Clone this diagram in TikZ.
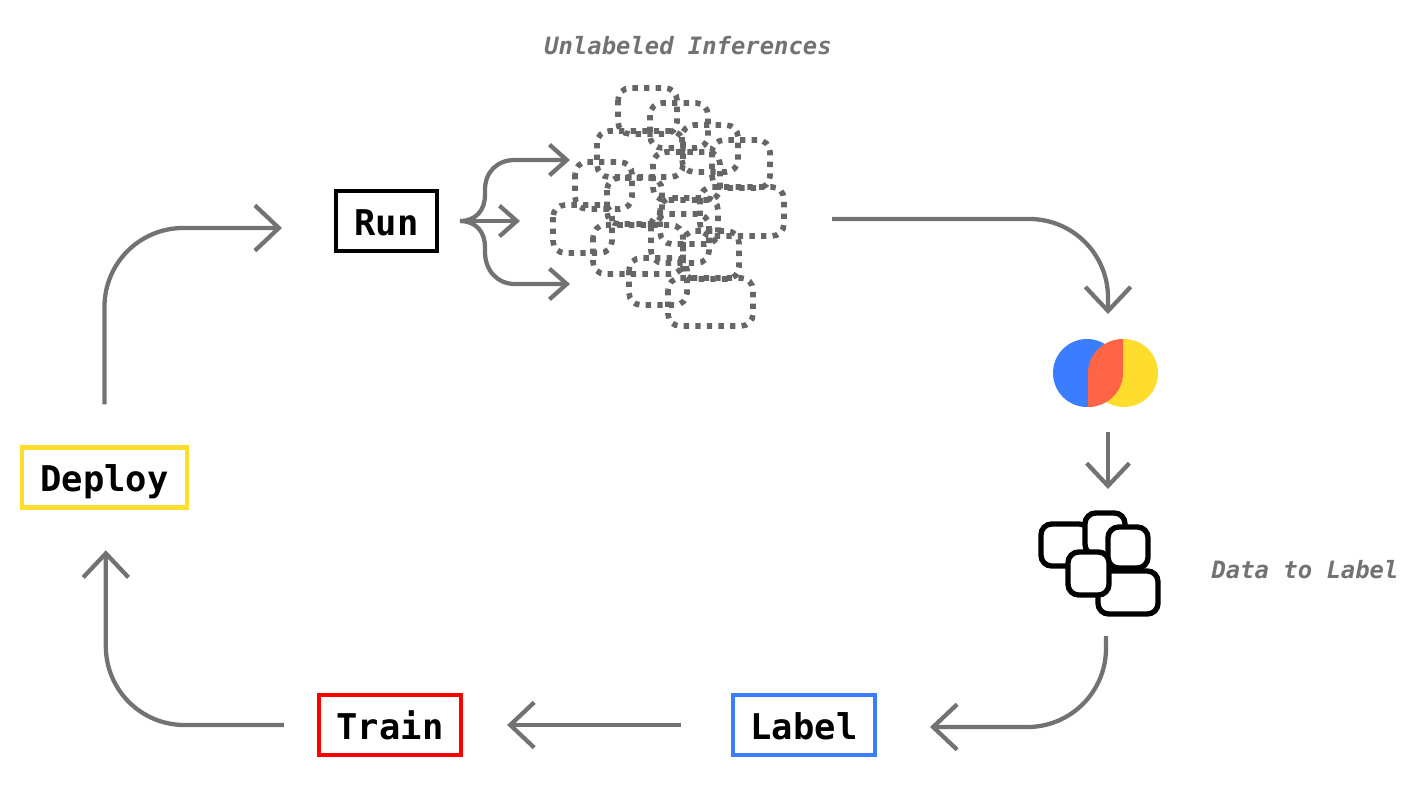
\documentclass[tikz,border=0pt]{standalone}
\usepackage{fontspec}
\setmonofont{DejaVu Sans Mono}
\usetikzlibrary{arrows.meta}
\definecolor{flowgray}{HTML}{727272}
\definecolor{dotgray}{HTML}{666666}
\definecolor{deployyellow}{HTML}{FFDD2D}
\definecolor{trainred}{HTML}{FF0000}
\definecolor{labelblue}{HTML}{3A7DFF}
\definecolor{vennred}{HTML}{FF6545}
\tikzset{
	flow/.style={draw=flowgray, line width=3.2pt, rounded corners=59pt, -{Straight Barb[length=18pt, width=34pt]}},
	smallflow/.style={draw=flowgray, line width=3.2pt, -{Straight Barb[length=13pt, width=23pt]}},
	stagebox/.style={draw, line width=3.2pt, inner sep=0pt, minimum height=45pt, text height=21pt, text depth=0pt, font=\ttfamily\bfseries\fontsize{26.6}{30}\selectfont},
	caption/.style={text=flowgray, inner sep=0pt, font=\ttfamily\bfseries\itshape\fontsize{17.9}{20}\selectfont},
	inference/.style={draw=dotgray, line width=4.2pt, rounded corners=9pt, dash pattern=on 4pt off 4.7pt},
	picked/.style={draw=black, fill=white, line width=4pt, rounded corners=8pt}
}

\begin{document}
\begin{tikzpicture}[x=0.75pt, y=-0.75pt]
	\useasboundingbox (0, 0) rectangle (1420, 800);

	%%%%% STAGES %%%%%
	\node[stagebox, minimum width=75.75pt] (run) at (386.5, 221) {Run};
	\node[stagebox, draw=deployyellow, minimum width=123.75pt] (deploy) at (104.5, 477.5) {Deploy};
	\node[stagebox, draw=trainred, minimum width=106.5pt] (train) at (390, 725) {Train};
	\node[stagebox, draw=labelblue, minimum width=106.5pt] (label) at (804, 725) {Label};

	\node[caption] (unlabeled) at (688, 46) {Unlabeled Inferences};
	\node[caption] (tolabel) at (1305, 570) {Data to Label};

	%%%%% INFERENCES %%%%%
	\draw[inference] (618, 88) rectangle (677, 134);
	\draw[inference] (650, 103) rectangle (708, 148);
	\draw[inference] (682, 125) rectangle (738, 172);
	\draw[inference] (712, 140) rectangle (770, 188);
	\draw[inference] (597, 131) rectangle (683, 177);
	\draw[inference] (575, 162) rectangle (632, 209);
	\draw[inference] (607, 178) rectangle (662, 224);
	\draw[inference] (653, 152) rectangle (720, 200);
	\draw[inference] (660, 198) rectangle (718, 244);
	\draw[inference] (700, 187) rectangle (784, 236);
	\draw[inference] (553, 205) rectangle (612, 253);
	\draw[inference] (593, 225) rectangle (683, 274);
	\draw[inference] (651, 214) rectangle (709, 263);
	\draw[inference] (683, 231) rectangle (739, 279);
	\draw[inference] (629, 258) rectangle (687, 305);
	\draw[inference] (668, 278) rectangle (753, 326);

	%%%%% VENN %%%%%
	\fill[labelblue] (1087, 373) circle (34);
	\fill[deployyellow] (1124, 373) circle (34);
	\fill[vennred] (1123, 339) arc (270:180:35 and 34) -- (1088, 407) arc (90:0:35 and 34) -- cycle;

	%%%%% TO LABEL %%%%%
	\draw[picked] (1041, 524) rectangle (1090, 566);
	\draw[picked] (1085, 513) rectangle (1125, 555);
	\draw[picked] (1098, 571) rectangle (1158, 614);
	\draw[picked] (1108, 527) rectangle (1148, 568);
	\draw[picked] (1068, 552) rectangle (1109, 595);

	%%%%% CONNECTORS %%%%%
	\coordinate (runin) at (282, 228);
	\coordinate (runfork) at (460, 221);
	\coordinate (forktop) at (570, 160);
	\coordinate (forkmid) at (520, 221);
	\coordinate (forkbottom) at (570, 284);
	\coordinate (cloudout) at (832, 219);
	\coordinate (vennin) at (1108, 314);
	\coordinate (vennout) at (1108, 432);
	\coordinate (stackin) at (1108, 489);
	\coordinate (stackout) at (1106, 636);
	\coordinate (labelin) at (930, 727);

	\draw[flow, shorten <=30.75pt] (deploy.north) |- (runin);
	\draw[smallflow] (runfork) -- (forkmid);
	\draw[smallflow] (runfork) .. controls (476, 221) and (485, 210) .. (485, 195) -- (485, 190) .. controls (485, 172) and (497, 160) .. (515, 160) -- (forktop);
	\draw[smallflow] (runfork) .. controls (476, 221) and (485, 232) .. (485, 247) -- (485, 252) .. controls (485, 270) and (497, 284) .. (515, 284) -- (forkbottom);
	\draw[flow] (cloudout) -| (vennin);
	\draw[smallflow, -{Straight Barb[length=17pt, width=32pt]}] (vennout) -- (stackin);
	\draw[flow] (stackout) |- (labelin);
	\draw[flow, rounded corners=0pt, shorten <=37.5pt, shorten >=33pt] (label.west) -- (train.east);
	\draw[flow, shorten <=24.75pt, shorten >=30.5pt] (train.west) -| ([xshift=1pt]deploy.south);
\end{tikzpicture}
\end{document}
